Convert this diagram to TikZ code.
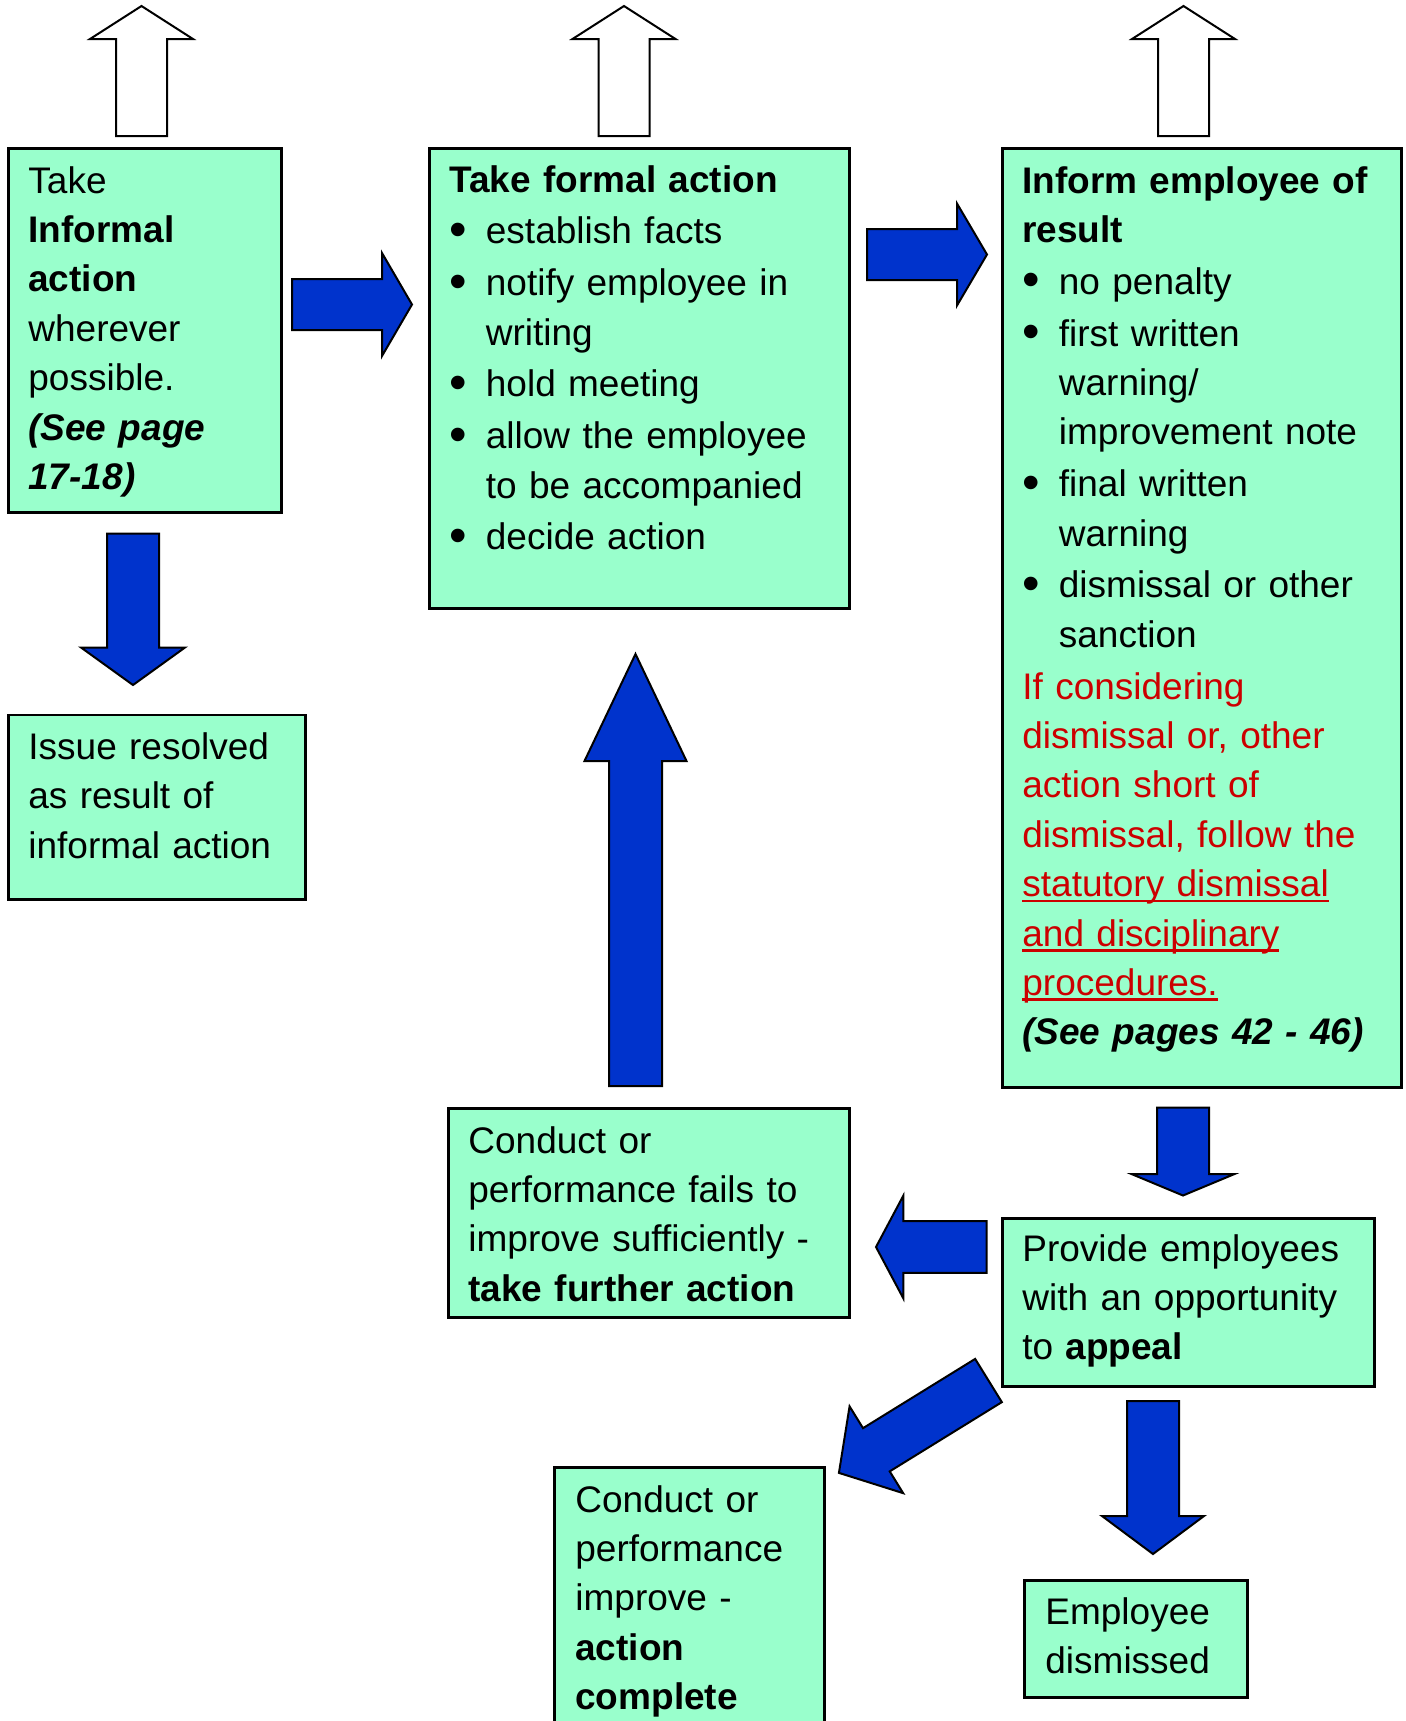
\documentclass[tikz,border=0pt]{standalone}
\usepackage{fontspec}
\setmainfont{Liberation Sans}

\definecolor{boxgreen}{HTML}{99FFCC}
\definecolor{arrowblue}{HTML}{0033CC}
\definecolor{notered}{HTML}{CC0000}

\newcommand{\boxfont}{\fontsize{18.5pt}{24.7pt}\selectfont}
\newcommand{\nl}{\hfil\break}
\newcommand{\bul}{\par\vspace{1.2pt}\hangindent=18.25pt\hangafter=1\noindent\makebox[18.25pt][l]{\raisebox{-1.2pt}{\scalebox{1.35}{\textbullet}}}}
\newsavebox{\ulinebox}
\newcommand{\redline}[1]{\sbox{\ulinebox}{#1}\makebox[0pt][l]{\rule[-2.8pt]{\wd\ulinebox}{1.3pt}}\usebox{\ulinebox}}

% [style]{x}{y}{angle}{length}{shaft half width}{head half width}{head length}
\newcommand{\blockarrow}[8][bluearrow]{%
	\begin{scope}[shift={(#2,#3)}, rotate=#4]
		\draw[#1] (0,#6) -- ({#5-#8},#6) -- ({#5-#8},#7) -- (#5,0)
			-- ({#5-#8},-#7) -- ({#5-#8},-#6) -- (0,-#6) -- cycle;
	\end{scope}}

\begin{document}
\begin{tikzpicture}[x=0.5pt, y=-0.5pt,
	box/.style={draw=black, line width=1.3pt, fill=boxgreen, rectangle, inner sep=0pt, anchor=north west},
	txt/.style={anchor=base west, inner sep=0pt, text width=195pt, font=\boxfont},
	bluearrow/.style={draw=black, line width=1pt, fill=arrowblue, line join=miter},
	outline/.style={draw=black, line width=1pt, fill=white, line join=miter}]

	\useasboundingbox (0,0) rectangle (1405,1721);

	% draw boxes
	\node[box, minimum width=136.5pt, minimum height=182pt] (informal) at (7,147) {};
	\node[box, minimum width=210pt, minimum height=230pt] (formal) at (428,147) {};
	\node[box, minimum width=199.5pt, minimum height=469.5pt] (inform) at (1001,147) {};
	\node[box, minimum width=148.5pt, minimum height=92.25pt] (resolved) at (7,713.5) {};
	\node[box, minimum width=200.5pt, minimum height=104.5pt] (fails) at (447,1107) {};
	\node[box, minimum width=186.2pt, minimum height=84pt] (appeal) at (1001,1217) {};
	\node[box, minimum width=111.5pt, minimum height=58.5pt] (dismissed) at (1023,1579) {};
	\node[box, minimum width=135pt, minimum height=140pt] (complete) at (553,1466) {};

	% box texts
	\node[txt] (informal-t) at ([shift={(21,46)}]informal.north west)
		{Take\nl \textbf{Informal}\nl \textbf{action}\nl wherever\nl possible.\nl
		\textbf{\textit{(See page}}\nl \textbf{\textit{17-18)}}};

	\node[txt] (formal-t) at ([shift={(21,45)}]formal.north west)
		{\textbf{Take formal action}
		\bul establish facts
		\bul notify employee in\nl writing
		\bul hold meeting
		\bul allow the employee\nl to be accompanied
		\bul decide action\par};

	\node[txt] (inform-t) at ([shift={(21,46)}]inform.north west)
		{\textbf{Inform employee of}\nl \textbf{result}
		\bul no penalty
		\bul first written\nl warning/\nl improvement note
		\bul final written\nl warning
		\bul dismissal or other\nl sanction
		\par\vspace{1.2pt}\noindent{\color{notered}If considering\nl dismissal or, other\nl
		action short of\nl dismissal, follow the\nl \redline{statutory dismissal}\nl
		\redline{and disciplinary}\nl \redline{procedures.}}\nl
		\textbf{\textit{(See pages 42 - 46)}}\par};

	\node[txt] (resolved-t) at ([shift={(21,46)}]resolved.north west)
		{Issue resolved\nl as result of\nl informal action};

	\node[txt] (fails-t) at ([shift={(21,46)}]fails.north west)
		{Conduct or\nl performance fails to\nl improve sufficiently -\nl \textbf{take further action}};

	\node[txt] (appeal-t) at ([shift={(21,44)}]appeal.north west)
		{Provide employees\nl with an opportunity\nl to \textbf{appeal}};

	\node[txt] (dismissed-t) at ([shift={(22,45)}]dismissed.north west)
		{Employee\nl dismissed};

	\node[txt] (complete-t) at ([shift={(22,46)}]complete.north west)
		{Conduct or\nl performance\nl improve -\nl \textbf{action}\nl \textbf{complete}};

	% open arrows above the top row
	\foreach \cx in {141.5,624,1183.5}
	{
		\blockarrow[outline]{\cx}{136}{90}{130}{25.5}{51.5}{33}
	}

	% draw blue arrows
	\blockarrow{292}{304.5}{0}{120}{25.5}{51.5}{30}
	\blockarrow{867}{254.5}{0}{120}{25.5}{51}{30}
	\blockarrow{133}{533.5}{-90}{151.5}{26}{52}{37.5}
	\blockarrow{635.5}{1086}{90}{432}{26.5}{51}{107}
	\blockarrow{1183}{1107.5}{-90}{88}{26}{51.3}{21.4}
	\blockarrow{986.7}{1247}{180}{110.7}{25.8}{51.3}{27.3}
	\blockarrow{988.5}{1380.5}{211.7}{175.8}{25.4}{51}{44}
	\blockarrow{1153}{1401}{-90}{153}{26}{51}{38}

\end{tikzpicture}
\end{document}
